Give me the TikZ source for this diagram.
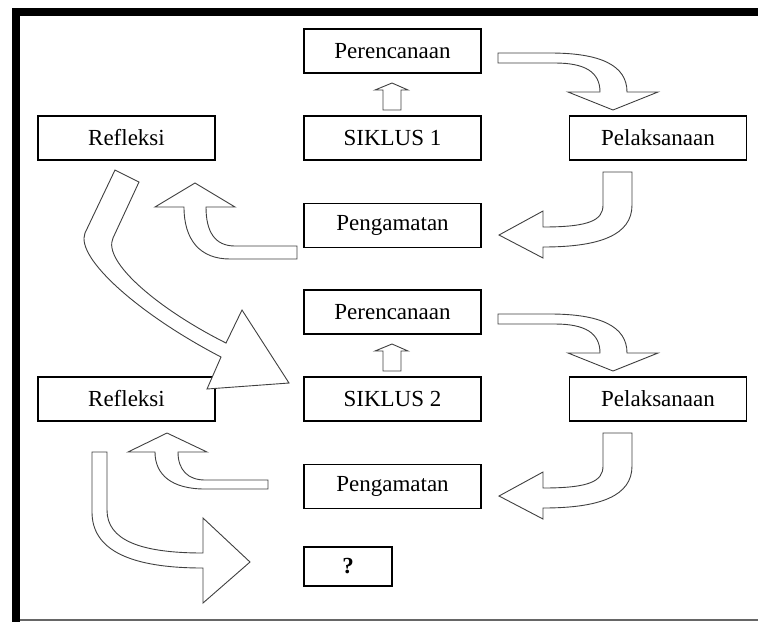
\documentclass[tikz,border=0pt]{standalone}
\usepackage{fontspec}
\setmainfont{Liberation Serif}
\usetikzlibrary{calc}

\tikzset{
  stage/.style={draw, line width=0.6pt, minimum width=88.5pt, minimum height=22pt,
                inner sep=0pt, font=\fontsize{11.5}{14}\selectfont},
  blockarrow/.style={draw=black!75, line width=0.45pt, fill=white, line join=miter},
}

\begin{document}
\begin{tikzpicture}[x=0.5pt, y=-0.5pt]
  \useasboundingbox (0,0) rectangle (758,622);
  % Frame
  \fill[black] (12,8) rectangle (758,16);
  \fill[black] (12,8) rectangle (20,622);
  \draw[black!60, line width=1pt] (20,620) -- (758,620);

  % Both cycles
  \foreach \c/\dy in {1/0, 2/261}{
    \node[stage] (plan\c)    at (392.5, 51+\dy)  {Perencanaan};
    \node[stage] (cycle\c)   at (392.5, 138+\dy) {SIKLUS \c};
    \node[stage] (reflect\c) at (126.5, 138+\dy) {Refleksi};
    \node[stage] (act\c)     at (658, 138+\dy)   {Pelaksanaan};
    \node[stage] (observe\c) at (392.5, 225.5+\dy) {Pengamatan};
    \begin{scope}[shift={(0,\dy)}]
      % cycle -> plan
      \draw[blockarrow] (383,110) -- (383,90) -- (375,90) -- (392,83) -- (408,90)
        -- (401,90) -- (401,110) -- cycle;
      % plan -> act
      \draw[blockarrow] (498,53) -- (550,53) .. controls (600,53) and (627,65) .. (627,92)
        -- (658,92) -- (613,110) -- (568,92) -- (600,92)
        .. controls (600,72) and (585,63) .. (555,63) -- (498,63) -- cycle;
      % act -> observe
      \draw[blockarrow] (603,172) -- (632,172) -- (632,205)
        .. controls (632,235) and (600,247) .. (543,247) -- (543,258) -- (499,235)
        -- (543,211) -- (543,227) .. controls (590,227) and (603,220) .. (603,205) -- cycle;
    \end{scope}
  }
  \node[stage, minimum width=44pt, minimum height=19.5pt, font=\fontsize{11.5}{14}\selectfont\bfseries]
    (next) at (348, 566.5) {?};

  % observe 1 -> reflect 1
  \draw[blockarrow] (297,246) -- (297,259) -- (230,259) .. controls (200,259) and (184,240) .. (184,207)
    -- (155,207) -- (195,183) -- (235,207) -- (206,207)
    .. controls (206,232) and (215,246) .. (235,246) -- cycle;
  % reflect 1 -> cycle 2
  \draw[blockarrow] (115,170) -- (85,233) .. controls (75,258) and (140,315) .. (221,357)
    -- (207,389) -- (289,383) -- (242,310) -- (226,343)
    .. controls (160,310) and (102,262) .. (113,238) -- (139,182) -- cycle;
  % observe 2 -> reflect 2
  \draw[blockarrow] (268,480) -- (268,489) -- (205,489) .. controls (172,489) and (155,475) .. (155,452)
    -- (128,452) -- (167,433) -- (207,452) -- (178,452)
    .. controls (178,470) and (188,480) .. (205,480) -- cycle;
  % reflect 2 -> next
  \draw[blockarrow] (92,452) -- (107,452) -- (107,510) .. controls (107,540) and (140,553) .. (203,553)
    -- (203,518) -- (250,562) -- (203,603) -- (203,568)
    .. controls (130,568) and (92,550) .. (92,512) -- cycle;
\end{tikzpicture}
\end{document}
